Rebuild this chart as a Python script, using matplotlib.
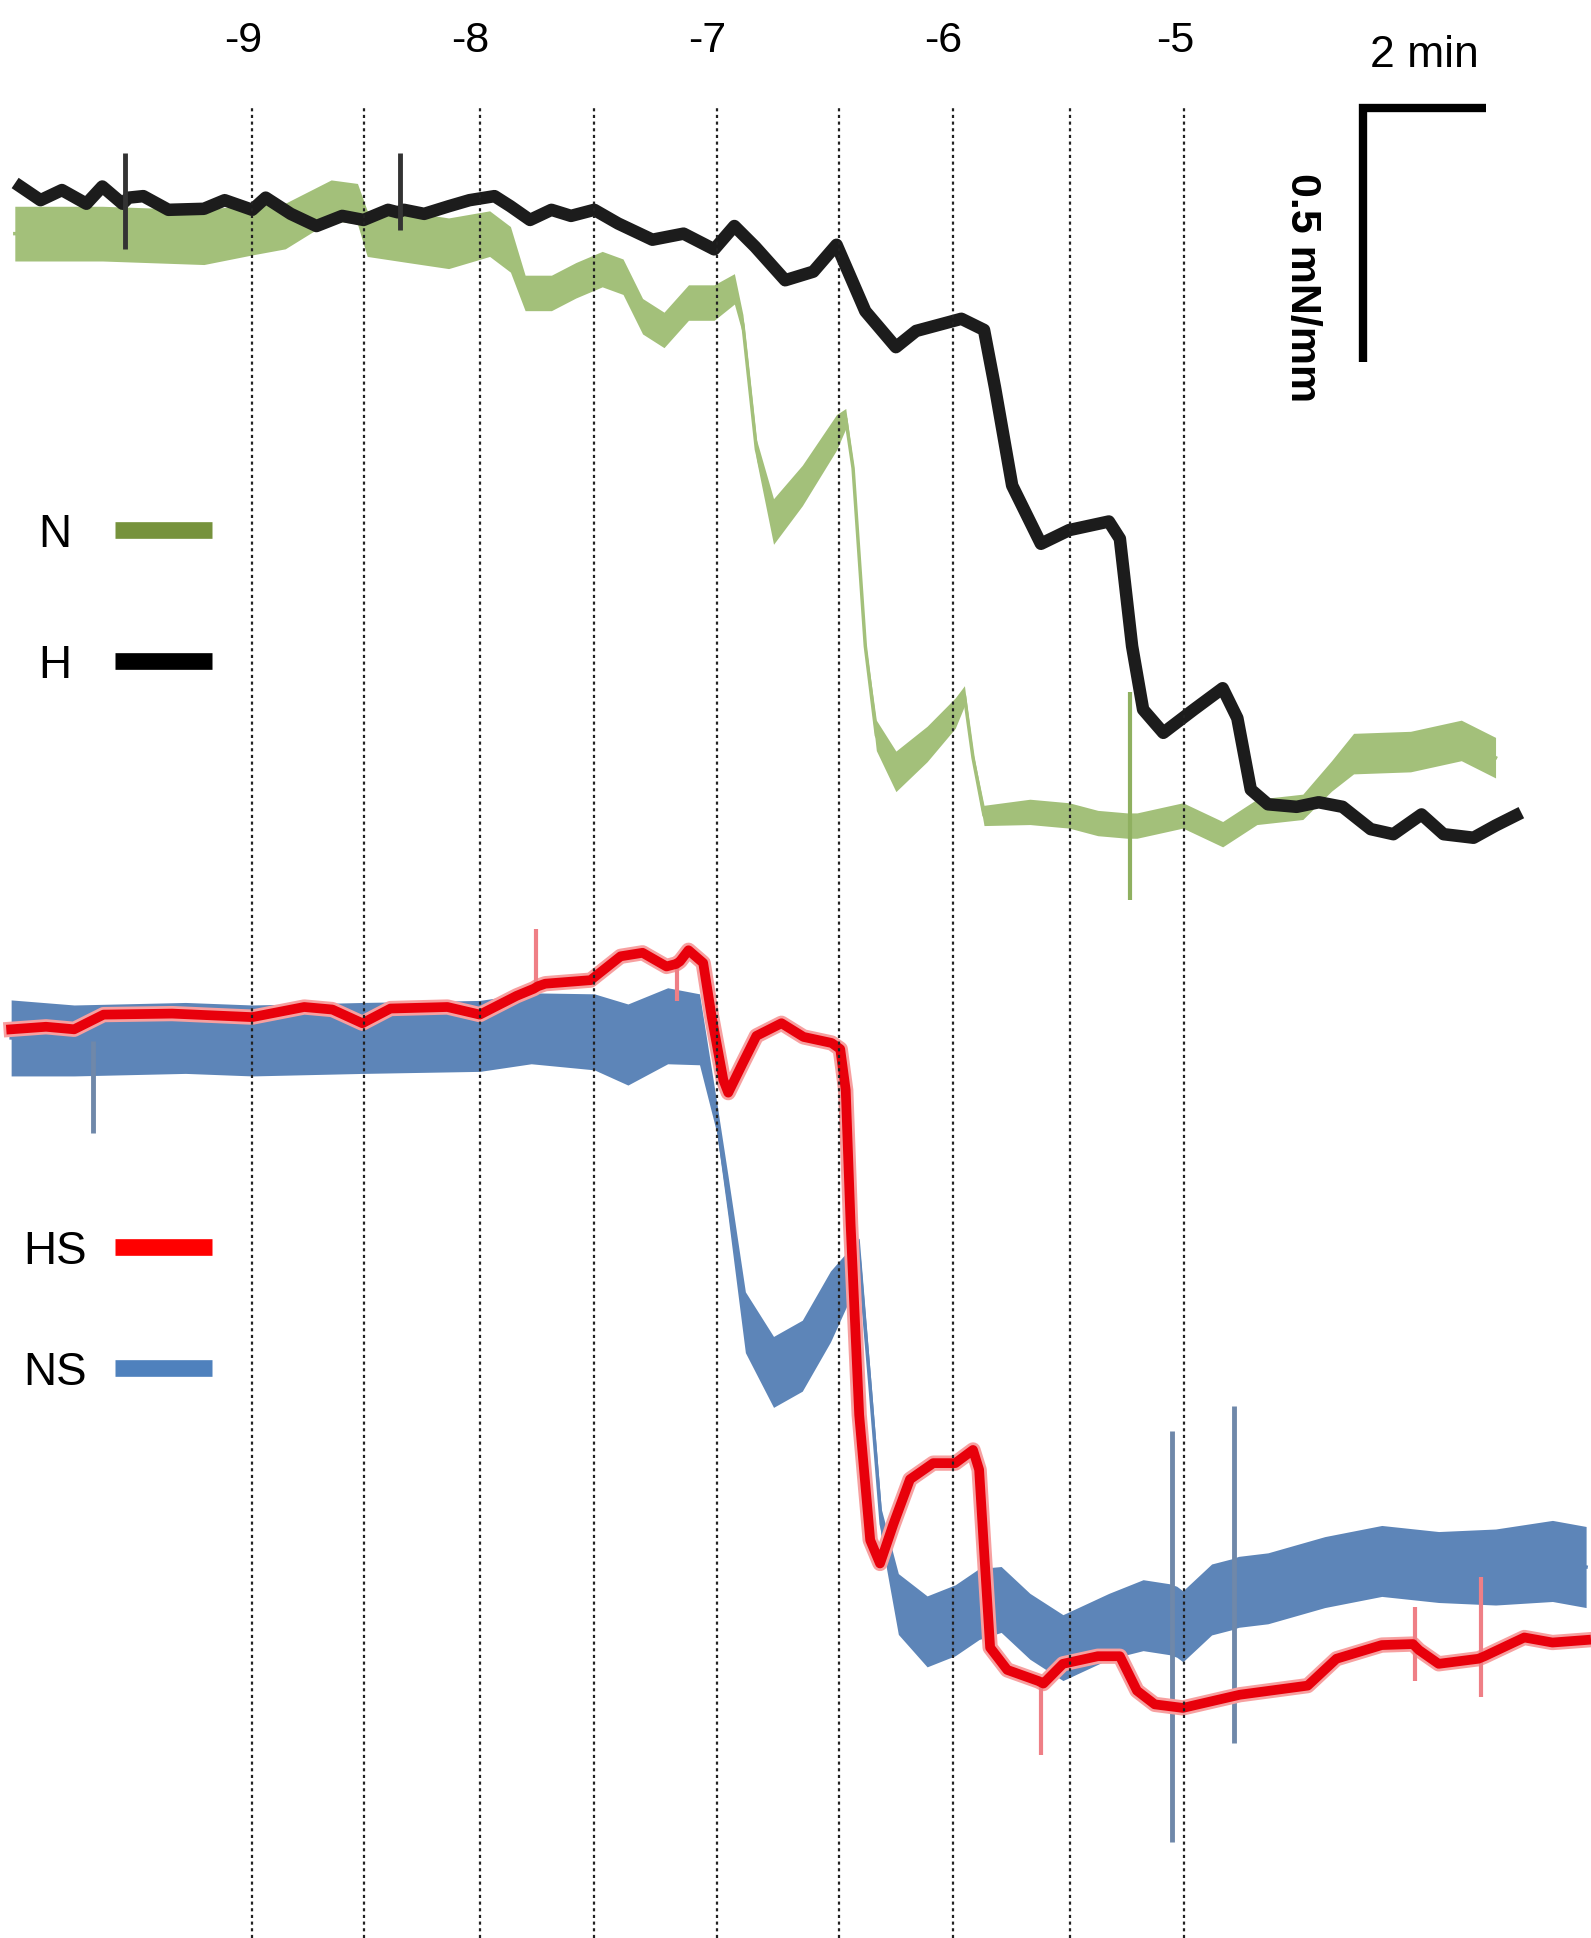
import numpy as np
import matplotlib
matplotlib.use("Agg")
import matplotlib.pyplot as plt

plt.rcParams['font.family'] = ['Liberation Sans', 'DejaVu Sans']

# time in minutes from the start of the recording, tension in mN/mm (offset traces)
dose_t = [3.88, 5.70, 7.60, 9.47, 11.47, 13.47, 15.33, 17.25, 19.11]
dose_labels = ['-9', '', '-8', '', '-7', '', '-6', '', '-5']

# H (black)
h_t = [0.09, 0.42, 0.77, 1.17, 1.43, 1.76, 1.86, 2.10, 2.51, 3.09, 3.43,
       3.88, 4.10, 4.51, 4.93, 5.35, 5.70, 6.10, 6.26, 6.36, 6.69, 7.09,
       7.43, 7.84, 8.10, 8.42, 8.77, 9.09, 9.47, 9.86, 10.42, 10.93, 11.43, 11.76,
       12.10, 12.59, 13.05, 13.43, 13.90, 14.40, 14.73, 15.47, 15.84, 16.02, 16.30,
       16.77, 17.23, 17.88, 18.06, 18.26, 18.44, 18.77, 19.27, 19.74, 19.98, 20.20,
       20.48, 20.95, 21.31, 21.70, 22.16, 22.53, 22.99, 23.35, 23.84, 24.20, 24.53]
h_y = [3.456, 3.429, 3.449, 3.422, 3.456, 3.422, 3.434, 3.437, 3.410,
       3.412, 3.429, 3.410, 3.434, 3.402, 3.378, 3.398, 3.390, 3.410, 3.405,
       3.410, 3.402, 3.417, 3.429, 3.437, 3.417, 3.390, 3.410, 3.398, 3.410,
       3.383, 3.351, 3.363, 3.332, 3.378, 3.337, 3.271, 3.288, 3.341, 3.210, 3.139,
       3.171, 3.195, 3.173, 3.059, 2.866, 2.751, 2.778, 2.795, 2.761, 2.549, 2.424,
       2.378, 2.424, 2.466, 2.407, 2.266, 2.237, 2.232, 2.241, 2.232, 2.188, 2.178,
       2.217, 2.178, 2.171, 2.195, 2.215]
h_spike_t = [1.80, 6.30]
h_spike_lo = [3.332, 3.371]
h_spike_hi = [3.522, 3.522]

# N (green), with noise half-width
n_t = [0.00, 1.43, 3.09, 3.88, 4.42, 5.17, 5.60, 5.76, 6.42, 7.09, 7.76, 8.10, 8.34,
       8.77, 9.17, 9.60, 9.94, 10.26, 10.61, 11.01, 11.43, 11.76, 11.90, 12.12, 12.40,
       12.87, 13.43, 13.58, 13.70, 13.90, 14.08, 14.40, 14.91, 15.37, 15.52, 15.66,
       15.84, 16.59, 17.23, 17.70, 18.18, 18.34, 19.09, 19.74, 20.30,
       21.05, 21.52, 21.88, 22.81, 23.64, 24.20]
n_y = [3.363, 3.363, 3.356, 3.371, 3.378, 3.429, 3.422, 3.363, 3.356, 3.344, 3.363,
       3.332, 3.246, 3.246, 3.271, 3.293, 3.278, 3.200, 3.173, 3.227, 3.227, 3.254,
       3.183, 2.937, 2.795, 2.866, 2.971, 2.998, 2.900, 2.549, 2.373, 2.302, 2.356,
       2.417, 2.451, 2.329, 2.215, 2.222, 2.215, 2.200, 2.195, 2.195,
       2.215, 2.178, 2.222, 2.232, 2.293, 2.337, 2.341, 2.363, 2.329]
n_hw = [0.054, 0.054, 0.054, 0.050, 0.045, 0.040, 0.040, 0.045, 0.050, 0.050, 0.045,
        0.045, 0.035, 0.035, 0.035, 0.035, 0.035, 0.035, 0.035, 0.035, 0.035, 0.030,
        0.020, 0.020, 0.045, 0.040, 0.035, 0.020, 0.010, 0.010, 0.030, 0.040, 0.035,
        0.030, 0.020, 0.010, 0.020, 0.025, 0.025, 0.025, 0.025, 0.025,
        0.025, 0.025, 0.025, 0.025, 0.030, 0.040, 0.040, 0.040, 0.040]
n_spike_t = [18.22]
n_spike_lo = [2.049]
n_spike_hi = [2.459]

# HS (red)
hs_t = [-0.06, 0.51, 0.97, 1.45, 2.57, 3.88, 4.73, 5.19, 5.68, 6.14, 7.07, 7.60, 8.20,
        8.48, 8.55, 8.67, 9.41, 9.90, 10.26, 10.65, 10.81, 10.87, 11.01,
        11.25, 11.39, 11.58, 11.66, 11.90, 12.12, 12.53, 12.89, 13.35, 13.49, 13.58,
        13.66, 13.80, 13.98, 14.14, 14.36, 14.63, 15.01, 15.37, 15.66, 15.76, 15.84,
        15.94, 16.22, 16.73, 16.81, 17.13, 17.70, 18.06, 18.34, 18.63, 19.09,
        20.02, 21.13, 21.60, 22.34, 22.85, 22.95, 23.27, 23.92,
        24.02, 24.67, 25.13, 25.68]
hs_y = [1.793, 1.798, 1.793, 1.822, 1.824, 1.817, 1.837, 1.832, 1.805, 1.834, 1.837,
        1.822, 1.859, 1.873, 1.878, 1.883, 1.890, 1.937, 1.944, 1.917, 1.922,
        1.927, 1.949, 1.924, 1.817, 1.693, 1.668, 1.727, 1.780, 1.805, 1.778,
        1.766, 1.754, 1.673, 1.407, 1.032, 0.785, 0.739, 0.817, 0.905, 0.937, 0.937,
        0.963, 0.924, 0.766, 0.573, 0.529, 0.507, 0.502, 0.541, 0.556, 0.556,
        0.488, 0.461, 0.454, 0.480, 0.498, 0.551, 0.578, 0.580, 0.568,
        0.541, 0.551, 0.556, 0.593, 0.583, 0.588]
hs_spike_t = [8.51, 10.83, 16.77, 22.89, 23.96]
hs_spike_lo = [1.873, 1.849, 0.361, 0.507, 0.476]
hs_spike_hi = [1.990, 1.927, 0.507, 0.654, 0.712]

# NS (blue), with noise half-width
ns_t = [-0.06, 0.97, 2.79, 3.88, 5.70, 7.60, 8.44, 9.47, 10.02,
        10.67, 11.19, 11.47, 11.66, 11.94, 12.40, 12.87, 13.33, 13.80, 13.98, 14.16,
        14.44, 14.91, 15.37, 15.76, 16.12, 16.59, 17.13, 17.88, 18.44, 18.87,
        18.99, 19.09, 19.56, 19.88, 20.00, 20.48, 21.41, 22.34,
        23.27, 24.20, 25.13, 25.68]
ns_y = [1.776, 1.771, 1.776, 1.771, 1.776, 1.780, 1.795, 1.788,
        1.763, 1.800, 1.793, 1.620, 1.461, 1.215, 1.117, 1.149, 1.246, 1.341, 1.085,
        0.817, 0.659, 0.605, 0.627, 0.659, 0.668, 0.615, 0.573, 0.615, 0.637, 0.629,
        0.624, 0.615, 0.668, 0.678, 0.683, 0.690, 0.722,
        0.744, 0.732, 0.732, 0.744, 0.732]
ns_hw = [0.075, 0.070, 0.070, 0.070, 0.070, 0.070, 0.070, 0.075,
         0.080, 0.075, 0.070, 0.030, 0.040, 0.060, 0.070, 0.070, 0.070, 0.040, 0.030,
         0.030, 0.060, 0.070, 0.070, 0.070, 0.065, 0.065, 0.065, 0.065, 0.070, 0.070,
         0.070, 0.070, 0.070, 0.070, 0.070, 0.070, 0.070,
         0.070, 0.070, 0.075, 0.080, 0.080]
ns_spike_t = [1.27, 18.91, 19.92]
ns_spike_lo = [1.588, 0.190, 0.385]
ns_spike_hi = [1.770, 1.000, 1.049]

legend_names = ['N', 'H', 'HS', 'NS']
legend_y = [2.778, 2.520, 1.363, 1.124]
legend_colors = ['#76923c', '#000000', '#ff0000', '#4f81bd']

green = '#a3c07a'
blue = '#5d85b8'
red = '#e8000b'

fig = plt.figure(figsize=(15.91, 19.38), dpi=100)
ax = fig.add_axes([0, 0, 1, 1])
ax.set_xlim(-0.242, 25.76)
ax.set_ylim(0, 3.824)
ax.axis('off')

# top pair
n_t, n_y, n_hw = np.array(n_t), np.array(n_y), np.array(n_hw)
ax.fill_between(n_t, n_y - n_hw, n_y + n_hw, color=green, lw=0, zorder=2)
ax.plot(n_t, n_y, color=green, lw=2.5, zorder=2)
ax.vlines(n_spike_t, n_spike_lo, n_spike_hi, color='#8fb060', lw=3, zorder=2)
ax.plot(h_t, h_y, color='#1c1c1c', lw=9, solid_joinstyle='round', zorder=3)
ax.vlines(h_spike_t, h_spike_lo, h_spike_hi, color='#333333', lw=3.5, zorder=3)

# bottom pair
ns_t, ns_y, ns_hw = np.array(ns_t), np.array(ns_y), np.array(ns_hw)
ax.fill_between(ns_t, ns_y - ns_hw, ns_y + ns_hw, color=blue, lw=0, zorder=2)
ax.plot(ns_t, ns_y, color=blue, lw=2.5, zorder=2)
ax.vlines(ns_spike_t, ns_spike_lo, ns_spike_hi, color='#6f88aa', lw=3.5, zorder=2)
ax.plot(hs_t, hs_y, color='#f7a0a0', lw=11, solid_joinstyle='round', zorder=3)
ax.plot(hs_t, hs_y, color=red, lw=7, solid_joinstyle='round', zorder=4)
ax.vlines(hs_spike_t, hs_spike_lo, hs_spike_hi, color='#ef7f86', lw=3, zorder=3)

# dose lines
for t, lab in zip(dose_t, dose_labels):
    ax.plot([t, t], [0, 3.610], color='#222222', lw=1.6, ls=(0, (1.4, 1.6)), zorder=10)
    if lab:
        ax.text(t - 0.15, 3.744, lab, ha='center', va='center', fontsize=31)

# legend bars
for name, y, c in zip(legend_names, legend_y, legend_colors):
    ax.plot([1.64, 3.23], [y, y], color=c, lw=12, solid_capstyle='butt', zorder=5)
    ax.text(0.66, y - 0.01, name, ha='center', va='center', fontsize=33)

# scale bar: 2 min x 0.5 mN/mm
ax.plot([24.04, 22.04, 22.04], [3.610, 3.610, 3.110], color='black', lw=6,
        solid_joinstyle='miter', solid_capstyle='butt', zorder=6)
ax.text(23.04, 3.715, '2 min', ha='center', va='center', fontsize=32)
ax.text(21.03, 3.256, '0.5 mN/mm', ha='center', va='center', rotation=-90,
        fontsize=31, fontweight='bold')

fig.savefig('out.png', dpi=100)
